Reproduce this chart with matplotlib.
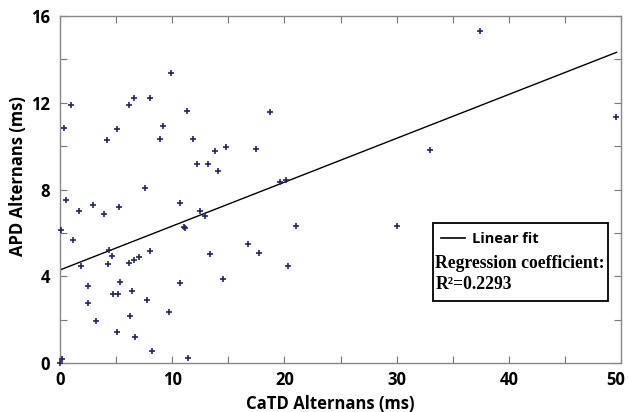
import matplotlib
matplotlib.use("Agg")
import matplotlib.pyplot as plt
from matplotlib.patches import Rectangle
from matplotlib.lines import Line2D
import numpy as np

catd = [0.95, 6.15, 6.60, 7.99, 9.92, 11.35, 0.36, 5.05, 4.22, 9.21, 8.88, 11.88,
        14.77, 13.81, 12.21, 13.22, 14.08, 7.55, 0.50, 18.69, 17.44, 19.58, 20.17,
        0.12, 1.19, 1.66, 2.94, 3.89, 5.23, 10.67, 12.45, 12.95, 11.02, 11.15,
        4.40, 4.67, 4.25, 1.90, 6.15, 6.57, 7.04, 8.05, 13.40, 14.50, 10.67, 5.32,
        2.53, 4.69, 5.14, 6.45, 2.53, 7.78, 9.71, 6.21, 3.18, 5.08, 6.71, 8.20,
        11.41, 0.20, 0.00, 21.06, 30.00, 16.78, 17.74, 20.35, 37.43, 32.98, 49.58]
apd = [11.89, 11.92, 12.23, 12.20, 13.36, 11.63, 10.84, 10.77, 10.29, 10.94, 10.31, 10.35,
       9.95, 9.77, 9.16, 9.16, 8.85, 8.09, 7.50, 11.57, 9.86, 8.34, 8.46,
       6.13, 5.67, 6.99, 7.27, 6.85, 7.20, 7.39, 6.99, 6.77, 6.25, 6.22,
       5.21, 4.93, 4.58, 4.47, 4.59, 4.76, 4.90, 5.18, 5.02, 3.88, 3.67, 3.75,
       3.55, 3.19, 3.19, 3.32, 2.75, 2.90, 2.36, 2.15, 1.94, 1.43, 1.20, 0.55,
       0.23, 0.17, 0.00, 6.31, 6.33, 5.51, 5.08, 4.45, 15.30, 9.80, 11.35]

fit_intercept = 4.29
fit_slope = 0.2024
fit_x = [0, 49.6]
r2_text = "R\u00b2=0.2293"

x_ticks = [0, 5, 10, 15, 20, 25, 30, 35, 40, 45, 50]
x_labels = ["0", "", "10", "", "20", "", "30", "", "40", "", ""]
last_x_label = "50"
y_ticks = [0, 2, 4, 6, 8, 10, 12, 14, 16]
y_labels = ["0", "", "4", "", "8", "", "12", "", "16"]

fig = plt.figure(figsize=(6.28, 4.12), dpi=100)
ax = fig.add_axes([0.0955, 0.119, 0.8935, 0.842])

ax.plot(catd, apd, linestyle="none", marker="+", markersize=5, mew=1.2,
        color="#23246e", clip_on=False, zorder=3)
fx = np.array(fit_x, dtype=float)
ax.plot(fx, fit_intercept + fit_slope * fx, color="black", lw=1.0, zorder=2)

ax.set_xlim(0, 50)
ax.set_ylim(0, 16)
ax.set_xticks(x_ticks)
ax.set_xticklabels(x_labels)
ax.set_yticks(y_ticks)
ax.set_yticklabels(y_labels)
for lab in ax.get_xticklabels() + ax.get_yticklabels():
    lab.set_fontfamily("Open Sans")
    lab.set_fontweight("bold")
    lab.set_fontsize(12)
# last x tick label drawn right-aligned so it stays inside the figure
ax.annotate(last_x_label, xy=(1.0, 0.0), xycoords="axes fraction",
            xytext=(4, -8), textcoords="offset pixels", ha="right", va="top",
            fontfamily="Open Sans", fontweight="bold", fontsize=12, annotation_clip=False)

ax.tick_params(direction="in", length=5, width=0.8, color="#777777",
               top=True, right=True, pad=6)
ax.tick_params(axis="y", pad=7)
for s in ax.spines.values():
    s.set_color("#888888")
    s.set_linewidth(1.0)

ax.set_xlabel("CaTD Alternans (ms)", fontfamily="Open Sans", fontweight="bold", fontsize=12)
ax.set_ylabel("APD Alternans (ms)", fontfamily="Open Sans", fontweight="bold", fontsize=12)
ax.xaxis.set_label_coords(0.482, -0.093)
ax.yaxis.set_label_coords(-0.058, 0.54)

# legend box
ax.add_patch(Rectangle((0.665, 0.179), 0.312, 0.224, transform=ax.transAxes,
                       facecolor="white", edgecolor="black", lw=1.3, zorder=5))
ax.add_line(Line2D([0.679, 0.721], [0.359, 0.359], transform=ax.transAxes,
                   color="black", lw=1.2, zorder=6))
ax.text(0.735, 0.356, "Linear fit", transform=ax.transAxes, va="center", ha="left",
        fontfamily="Open Sans", fontweight="bold", fontsize=10.5, zorder=6)
ax.text(0.669, 0.288, "Regression coefficient:", transform=ax.transAxes, va="center",
        ha="left", fontfamily="Liberation Serif", fontweight="bold", fontsize=12.7, zorder=6)
ax.text(0.669, 0.226, r2_text, transform=ax.transAxes, va="center",
        ha="left", fontfamily="Liberation Serif", fontweight="bold", fontsize=12.7, zorder=6)

fig.savefig("out.png", dpi=100)
